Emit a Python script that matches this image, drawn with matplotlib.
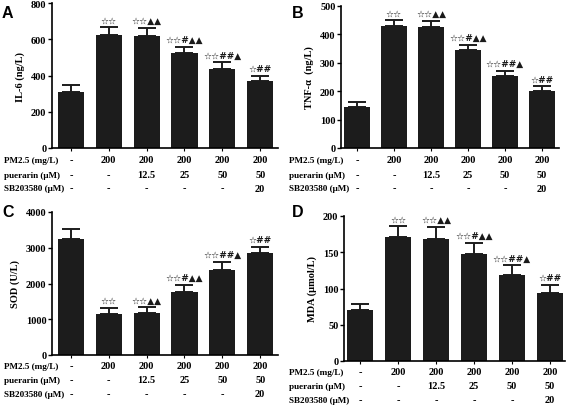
import matplotlib
matplotlib.use("Agg")
import matplotlib.pyplot as plt
import matplotlib.transforms as mtransforms

plt.rcParams['font.family'] = ['Liberation Serif', 'DejaVu Sans']
plt.rcParams['font.weight'] = 'bold'

row_names = ["PM2.5 (mg/L)", "puerarin (\u03bcM)", "SB203580 (\u03bcM)"]
pm25 = ["-", "200", "200", "200", "200", "200"]
puerarin = ["-", "-", "12.5", "25", "50", "50"]
sb = ["-", "-", "-", "-", "-", "20"]

annots = ["", "\u2606\u2606", "\u2606\u2606\u25b2\u25b2", "\u2606\u2606#\u25b2\u25b2",
          "\u2606\u2606##\u25b2", "\u2606##"]

il6 = [308, 622, 618, 524, 435, 367]
il6_err = [37, 46, 44, 36, 37, 31]
tnf = [145, 430, 427, 345, 253, 200]
tnf_err = [17, 20, 20, 18, 19, 17]
sod = [3250, 1160, 1170, 1770, 2370, 2840]
sod_err = [270, 160, 160, 190, 230, 190]
mda = [70, 171, 168, 148, 119, 94]
mda_err = [9, 15, 17, 15, 13, 11]

W, H = 567, 406
fig = plt.figure(figsize=(W / 100, H / 100), dpi=100)

panels = [
    dict(letter="A", vals=il6, err=il6_err, ylabel="IL-6 (ng/L)", ymax=800, step=200,
         box=(52, 278, 4, 149), xlim=(-0.5, 5.47), rows=(161, 176, 189), lx=4, letx=2, lety=14),
    dict(letter="B", vals=tnf, err=tnf_err, ylabel="TNF-\u03b1  (ng/L)", ymax=500, step=100,
         box=(341, 559, 7, 149), xlim=(-0.43, 5.46), rows=(161, 176, 189), lx=289, letx=292, lety=14),
    dict(letter="C", vals=sod, err=sod_err, ylabel="SOD (U/L)", ymax=4000, step=1000,
         box=(52, 278, 213, 356), xlim=(-0.5, 5.47), rows=(367, 381, 395), lx=4, letx=2, lety=213),
    dict(letter="D", vals=mda, err=mda_err, ylabel="MDA (\u03bcmol/L)", ymax=200, step=50,
         box=(344, 565, 217, 362), xlim=(-0.43, 5.4), rows=(373, 387, 401), lx=289, letx=292, lety=213),
]

for p in panels:
    l, r, t, b = p["box"]
    ax = fig.add_axes([l / W, (H - b) / H, (r - l) / W, (b - t) / H])
    x = list(range(len(p["vals"])))
    ax.bar(x, p["vals"], width=0.69, color="#1c1c1c", zorder=2)
    ax.errorbar(x, p["vals"], yerr=[[0] * len(x), p["err"]], fmt="none",
                ecolor="#1c1c1c", elinewidth=1.4, capsize=6.5, capthick=1.4, zorder=1)
    ax.set_xlim(*p["xlim"])
    ax.set_ylim(0, p["ymax"])
    ax.set_yticks(list(range(0, p["ymax"] + 1, p["step"])))
    ax.set_xticks(x)
    ax.set_xticklabels([""] * len(x))
    ax.tick_params(axis="y", labelsize=7.5, length=3, width=1, pad=1)
    ax.tick_params(axis="x", length=2.5, width=0.8)
    for lab in ax.get_yticklabels():
        lab.set_fontweight("bold")
    for s in ["top", "right"]:
        ax.spines[s].set_visible(False)
    ax.spines["left"].set_linewidth(1.2)
    ax.spines["bottom"].set_linewidth(1.2)
    ax.set_ylabel(p["ylabel"], fontsize=7.5, fontweight="bold", labelpad=4)
    # annotations
    for xi, v, e, a in zip(x, p["vals"], p["err"], annots):
        if a:
            ax.annotate(a, (xi, v + e), xytext=(0, 2), textcoords="offset points",
                        ha="center", va="bottom", fontsize=6.5, fontweight="bold",
                        family=["DejaVu Sans"], color="#1a1a1a")
    # condition table
    trans = mtransforms.blended_transform_factory(ax.transData, fig.transFigure)
    for yrow, name, vals in zip(p["rows"], row_names, [pm25, puerarin, sb]):
        fig.text(p["lx"] / W, (H - yrow) / H, name, ha="left", va="center",
                 fontsize=6.6, fontweight="bold")
        for xi, v in zip(x, vals):
            ax.text(xi, (H - yrow) / H, v, transform=trans, ha="center", va="center",
                    fontsize=7.5, fontweight="bold")
    fig.text(p["letx"] / W, (H - p["lety"]) / H, p["letter"], family=["Liberation Sans"],
             fontsize=11.5, fontweight="bold", ha="left", va="center")

fig.savefig("out.png", dpi=100)
